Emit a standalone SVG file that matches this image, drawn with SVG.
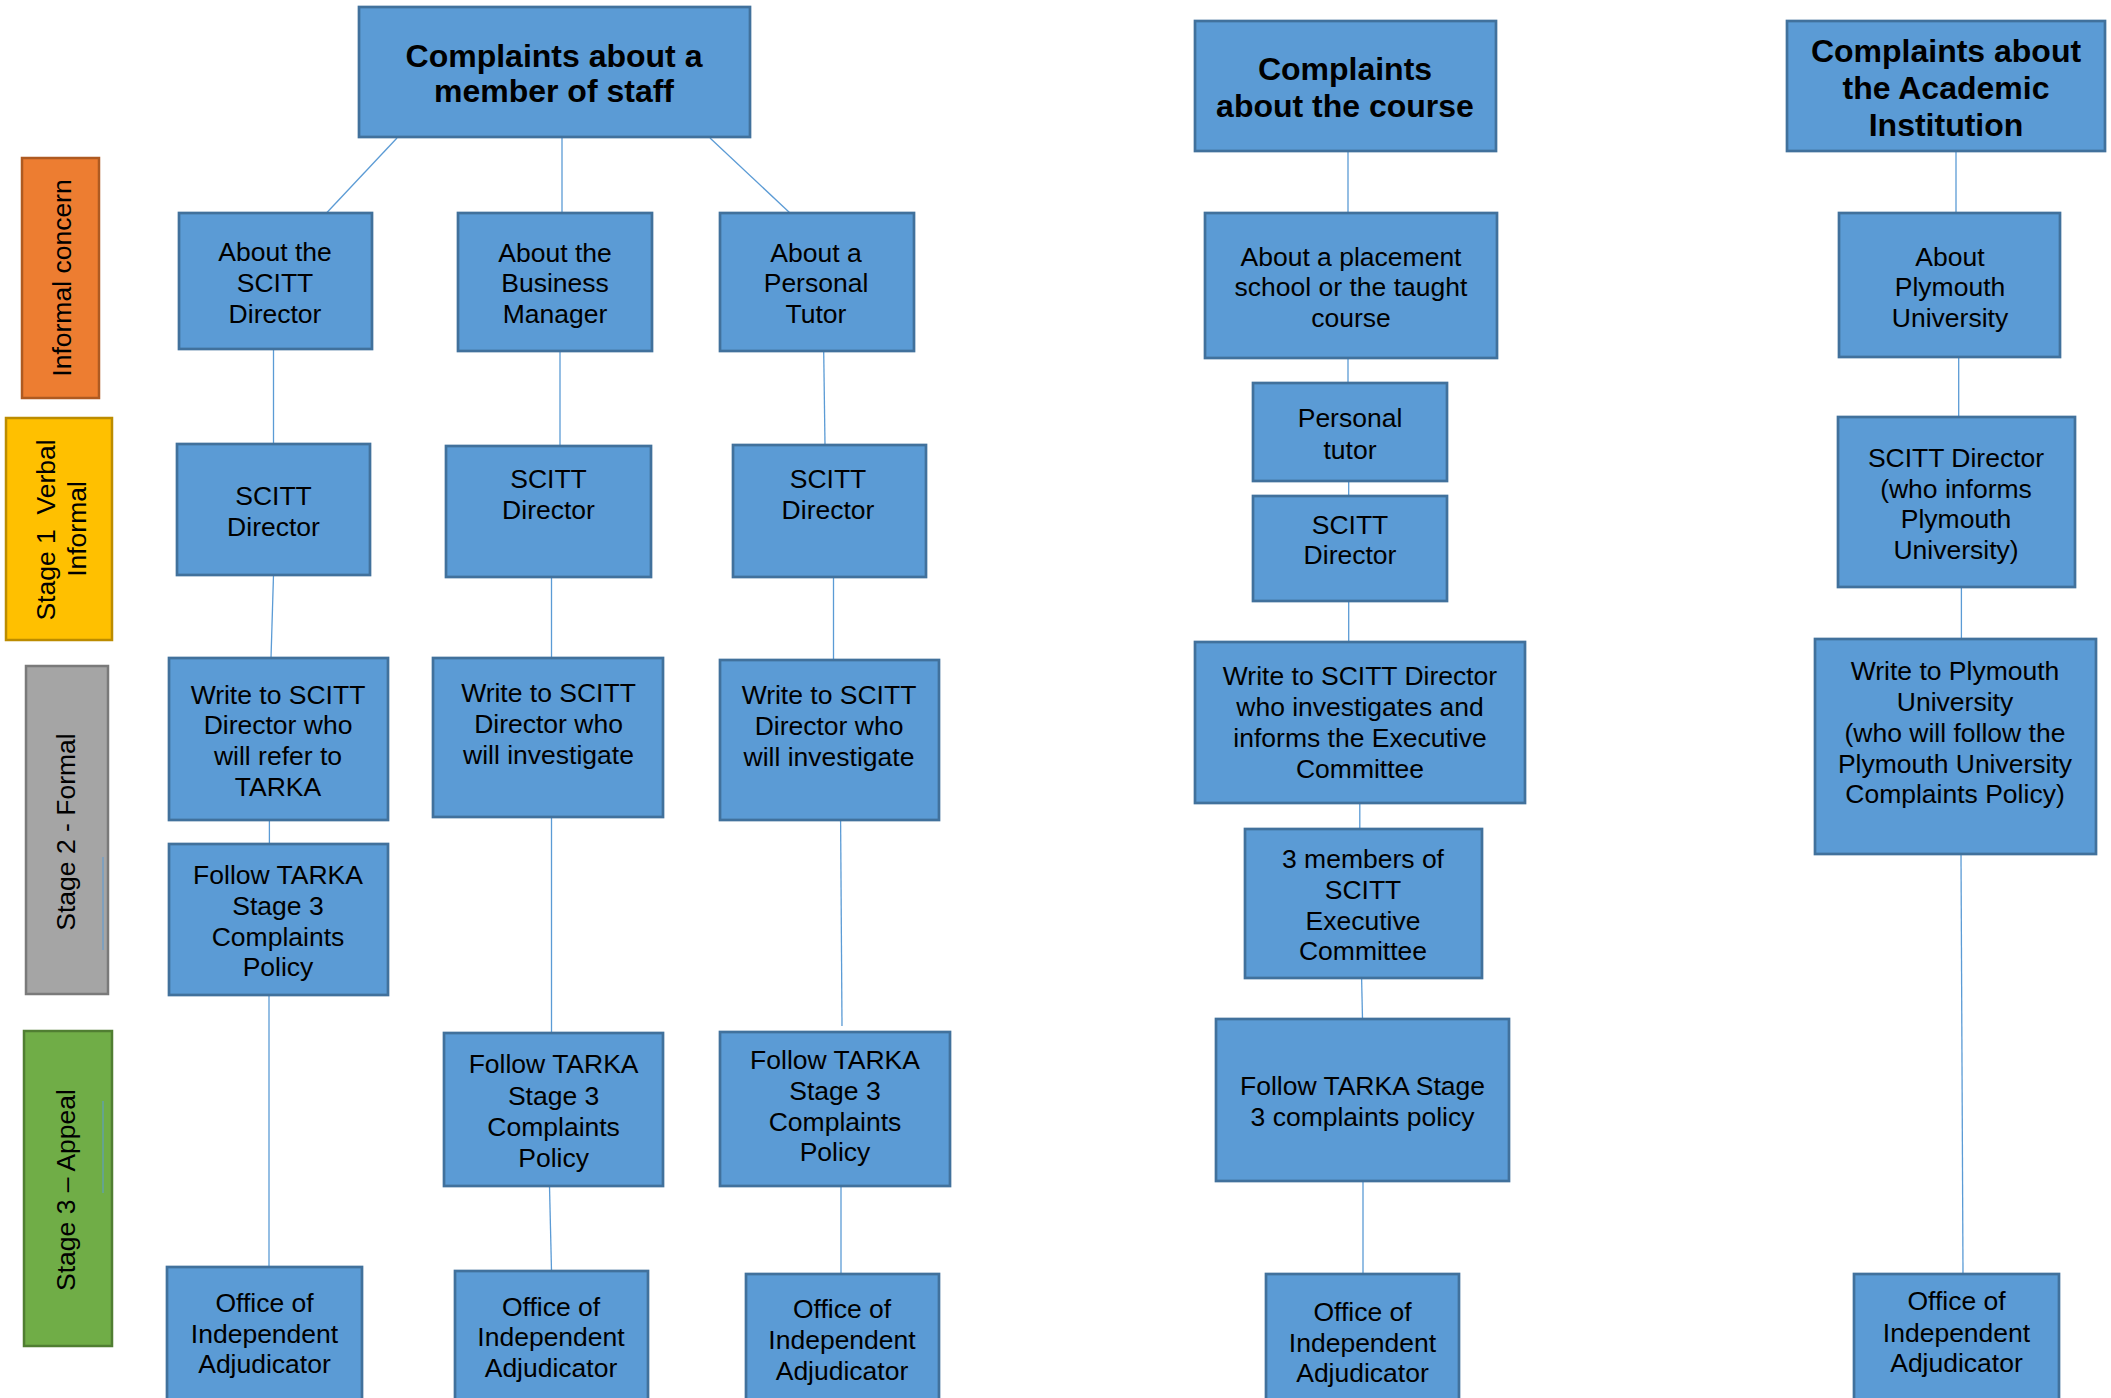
<svg xmlns="http://www.w3.org/2000/svg" width="2111" height="1398" viewBox="0 0 2111 1398">
<style>
.box{fill:#5B9BD5;stroke:#41719C;stroke-width:2.7}
.t{font-family:"Liberation Sans",Arial,sans-serif;font-size:26.5px;fill:#000;text-anchor:middle}
.h{font-family:"Liberation Sans",Arial,sans-serif;font-size:32px;font-weight:bold;fill:#000;text-anchor:middle}
.c{stroke:#5B9BD5;stroke-width:1.3;fill:none}
.lbl{font-family:"Liberation Sans",Arial,sans-serif;font-size:26.5px;fill:#000;text-anchor:middle}
</style>
<rect width="2111" height="1398" fill="#fff"/>

<g id="stage-labels">
<g id="lbl-informal">
<rect x="22" y="158" width="77" height="240" fill="#ED7D31" stroke="#AE5A21" stroke-width="2.5"/>
<text class="lbl" transform="translate(71,278) rotate(-90)">Informal concern</text>
</g>
<g id="lbl-stage1">
<rect x="6" y="418" width="106" height="222" fill="#FFC000" stroke="#BC8C00" stroke-width="2.5"/>
<text class="lbl" transform="translate(55,530) rotate(-90)">Stage 1&#160; Verbal</text>
<text class="lbl" transform="translate(86,529) rotate(-90)">Informal</text>
</g>
<g id="lbl-stage2">
<rect x="26" y="666" width="82" height="328" fill="#A5A5A5" stroke="#7A7A7A" stroke-width="2.5"/>
<text class="lbl" transform="translate(75,832) rotate(-90)">Stage 2 - Formal</text>
<line x1="103" y1="857" x2="103" y2="950" stroke="#5B9BD5" stroke-width="1"/>
</g>
<g id="lbl-stage3">
<rect x="24" y="1031" width="88" height="315" fill="#70AD47" stroke="#507E32" stroke-width="2.5"/>
<text class="lbl" transform="translate(75,1190) rotate(-90)">Stage 3 – Appeal</text>
<line x1="103" y1="1101" x2="103" y2="1193" stroke="#5B9BD5" stroke-width="1"/>
</g>
</g>

<g id="connectors">
<line class="c" x1="397" y1="138" x2="326.5" y2="213"/>
<line class="c" x1="562" y1="138" x2="562" y2="213"/>
<line class="c" x1="710" y1="138" x2="790" y2="213"/>
<line class="c" x1="273.5" y1="349" x2="273.5" y2="444"/>
<line class="c" x1="560" y1="351" x2="560" y2="446"/>
<line class="c" x1="823.7" y1="351" x2="825" y2="445"/>
<line class="c" x1="273.5" y1="575" x2="271" y2="658"/>
<line class="c" x1="551.5" y1="577" x2="551.5" y2="658"/>
<line class="c" x1="833.5" y1="577" x2="833.5" y2="660"/>
<line class="c" x1="269.4" y1="820" x2="269.4" y2="844"/>
<line class="c" x1="269" y1="995" x2="269" y2="1267"/>
<line class="c" x1="551.5" y1="817" x2="551.5" y2="1033"/>
<line class="c" x1="549.5" y1="1186" x2="551.5" y2="1271"/>
<line class="c" x1="840.6" y1="820" x2="842" y2="1026"/>
<line class="c" x1="841" y1="1186" x2="841" y2="1274"/>
<line class="c" x1="1348" y1="151" x2="1348" y2="213"/>
<line class="c" x1="1348" y1="358" x2="1348" y2="383"/>
<line class="c" x1="1348.7" y1="481" x2="1348.7" y2="496"/>
<line class="c" x1="1348.7" y1="601" x2="1348.7" y2="642"/>
<line class="c" x1="1359.8" y1="803" x2="1359.8" y2="829"/>
<line class="c" x1="1361.6" y1="978" x2="1362.5" y2="1019"/>
<line class="c" x1="1363" y1="1181" x2="1363" y2="1274"/>
<line class="c" x1="1956" y1="151" x2="1956" y2="213"/>
<line class="c" x1="1958.7" y1="357" x2="1958.7" y2="417"/>
<line class="c" x1="1961.4" y1="587" x2="1961.4" y2="639"/>
<line class="c" x1="1961" y1="854" x2="1963" y2="1274"/>
</g>

<!-- Column 1: staff -->
<g id="staff-title">
<rect class="box" x="359" y="7" width="391" height="130"/>
<text class="h" x="554" y="67">Complaints about a</text>
<text class="h" x="554" y="102">member of staff</text>
</g>
<g id="about-director">
<rect class="box" x="179" y="213" width="193" height="136"/>
<text class="t" x="275" y="261">About the</text>
<text class="t" x="275" y="292">SCITT</text>
<text class="t" x="275" y="323">Director</text>
</g>
<g id="about-manager">
<rect class="box" x="458" y="213" width="194" height="138"/>
<text class="t" x="555" y="262">About the</text>
<text class="t" x="555" y="292">Business</text>
<text class="t" x="555" y="323">Manager</text>
</g>
<g id="about-tutor">
<rect class="box" x="720" y="213" width="194" height="138"/>
<text class="t" x="816" y="262">About a</text>
<text class="t" x="816" y="292">Personal</text>
<text class="t" x="816" y="323">Tutor</text>
</g>
<g id="s1-director-1">
<rect class="box" x="177" y="444" width="193" height="131"/>
<text class="t" x="273.5" y="505">SCITT</text>
<text class="t" x="273.5" y="536">Director</text>
</g>
<g id="s1-director-2">
<rect class="box" x="446" y="446" width="205" height="131"/>
<text class="t" x="548.5" y="488">SCITT</text>
<text class="t" x="548.5" y="518.5">Director</text>
</g>
<g id="s1-director-3">
<rect class="box" x="733" y="445" width="193" height="132"/>
<text class="t" x="828" y="488">SCITT</text>
<text class="t" x="828" y="518.5">Director</text>
</g>
<g id="s2-write-1">
<rect class="box" x="169" y="658" width="219" height="162"/>
<text class="t" x="278" y="703.5">Write to SCITT</text>
<text class="t" x="278" y="734">Director who</text>
<text class="t" x="278" y="765">will refer to</text>
<text class="t" x="278" y="795.5">TARKA</text>
</g>
<g id="s2-follow-1">
<rect class="box" x="169" y="844" width="219" height="151"/>
<text class="t" x="278" y="883.5">Follow TARKA</text>
<text class="t" x="278" y="915">Stage 3</text>
<text class="t" x="278" y="945.7">Complaints</text>
<text class="t" x="278" y="976">Policy</text>
</g>
<g id="oia-1">
<rect class="box" x="167" y="1267" width="195" height="145"/>
<text class="t" x="264.5" y="1311.7">Office of</text>
<text class="t" x="264.5" y="1342.7">Independent</text>
<text class="t" x="264.5" y="1373">Adjudicator</text>
</g>
<g id="s2-write-2">
<rect class="box" x="433" y="658" width="230" height="159"/>
<text class="t" x="548.5" y="702">Write to SCITT</text>
<text class="t" x="548.5" y="733">Director who</text>
<text class="t" x="548.5" y="763.6">will investigate</text>
</g>
<g id="s3-follow-2">
<rect class="box" x="444" y="1033" width="219" height="153"/>
<text class="t" x="553.6" y="1073">Follow TARKA</text>
<text class="t" x="553.6" y="1105">Stage 3</text>
<text class="t" x="553.6" y="1136">Complaints</text>
<text class="t" x="553.6" y="1167">Policy</text>
</g>
<g id="oia-2">
<rect class="box" x="455" y="1271" width="193" height="145"/>
<text class="t" x="551" y="1315.6">Office of</text>
<text class="t" x="551" y="1346">Independent</text>
<text class="t" x="551" y="1377">Adjudicator</text>
</g>
<g id="s2-write-3">
<rect class="box" x="720" y="660" width="219" height="160"/>
<text class="t" x="829" y="703.7">Write to SCITT</text>
<text class="t" x="829" y="734.6">Director who</text>
<text class="t" x="829" y="765.6">will investigate</text>
</g>
<g id="s3-follow-3">
<rect class="box" x="720" y="1032" width="230" height="154"/>
<text class="t" x="835" y="1068.5">Follow TARKA</text>
<text class="t" x="835" y="1099.5">Stage 3</text>
<text class="t" x="835" y="1130.5">Complaints</text>
<text class="t" x="835" y="1161.4">Policy</text>
</g>
<g id="oia-3">
<rect class="box" x="746" y="1274" width="193" height="145"/>
<text class="t" x="842" y="1317.6">Office of</text>
<text class="t" x="842" y="1348.6">Independent</text>
<text class="t" x="842" y="1379.5">Adjudicator</text>
</g>

<!-- Column 4: course -->
<g id="course-title">
<rect class="box" x="1195" y="21" width="301" height="130"/>
<text class="h" x="1345" y="80">Complaints</text>
<text class="h" x="1345" y="116.5">about the course</text>
</g>
<g id="about-placement">
<rect class="box" x="1205" y="213" width="292" height="145"/>
<text class="t" x="1351" y="266">About a placement</text>
<text class="t" x="1351" y="296">school or the taught</text>
<text class="t" x="1351" y="327">course</text>
</g>
<g id="personal-tutor">
<rect class="box" x="1253" y="383" width="194" height="98"/>
<text class="t" x="1350" y="427">Personal</text>
<text class="t" x="1350" y="458.6">tutor</text>
</g>
<g id="course-director">
<rect class="box" x="1253" y="496" width="194" height="105"/>
<text class="t" x="1350" y="533.5">SCITT</text>
<text class="t" x="1350" y="564">Director</text>
</g>
<g id="course-write">
<rect class="box" x="1195" y="642" width="330" height="161"/>
<text class="t" x="1360" y="685">Write to SCITT Director</text>
<text class="t" x="1360" y="716">who investigates and</text>
<text class="t" x="1360" y="747">informs the Executive</text>
<text class="t" x="1360" y="778">Committee</text>
</g>
<g id="course-exec">
<rect class="box" x="1245" y="829" width="237" height="149"/>
<text class="t" x="1363" y="867.5">3 members of</text>
<text class="t" x="1363" y="898.7">SCITT</text>
<text class="t" x="1363" y="930">Executive</text>
<text class="t" x="1363" y="960">Committee</text>
</g>
<g id="course-follow">
<rect class="box" x="1216" y="1019" width="293" height="162"/>
<text class="t" x="1362.5" y="1095">Follow TARKA Stage</text>
<text class="t" x="1362.5" y="1126.4">3 complaints policy</text>
</g>
<g id="oia-4">
<rect class="box" x="1266" y="1274" width="193" height="145"/>
<text class="t" x="1362.5" y="1320.6">Office of</text>
<text class="t" x="1362.5" y="1352">Independent</text>
<text class="t" x="1362.5" y="1382">Adjudicator</text>
</g>

<!-- Column 5: academic institution -->
<g id="academic-title">
<rect class="box" x="1787" y="21" width="318" height="130"/>
<text class="h" x="1946" y="62">Complaints about</text>
<text class="h" x="1946" y="98.5">the Academic</text>
<text class="h" x="1946" y="136">Institution</text>
</g>
<g id="about-plymouth">
<rect class="box" x="1839" y="213" width="221" height="144"/>
<text class="t" x="1950" y="265.7">About</text>
<text class="t" x="1950" y="295.6">Plymouth</text>
<text class="t" x="1950" y="327">University</text>
</g>
<g id="academic-director">
<rect class="box" x="1838" y="417" width="237" height="170"/>
<text class="t" x="1956" y="466.6">SCITT Director</text>
<text class="t" x="1956" y="497.8">(who informs</text>
<text class="t" x="1956" y="528">Plymouth</text>
<text class="t" x="1956" y="559">University)</text>
</g>
<g id="academic-write">
<rect class="box" x="1815" y="639" width="281" height="215"/>
<text class="t" x="1955" y="680">Write to Plymouth</text>
<text class="t" x="1955" y="711">University</text>
<text class="t" x="1955" y="742">(who will follow the</text>
<text class="t" x="1955" y="772.5">Plymouth University</text>
<text class="t" x="1955" y="803">Complaints Policy)</text>
</g>
<g id="oia-5">
<rect class="box" x="1854" y="1274" width="205" height="145"/>
<text class="t" x="1956.5" y="1310">Office of</text>
<text class="t" x="1956.5" y="1342">Independent</text>
<text class="t" x="1956.5" y="1371.5">Adjudicator</text>
</g>
</svg>
